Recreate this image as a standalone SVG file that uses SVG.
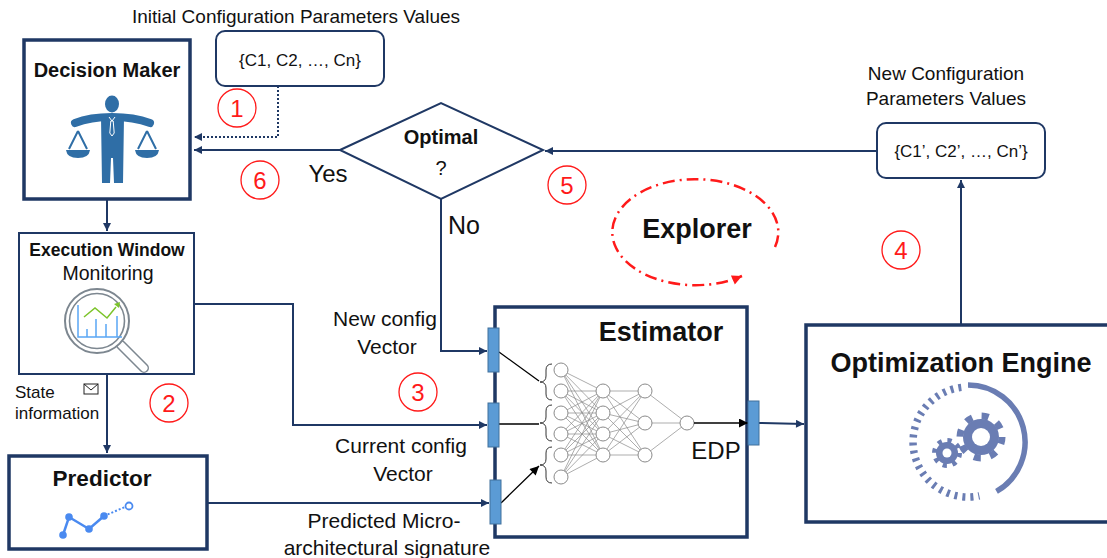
<svg xmlns="http://www.w3.org/2000/svg" width="1107" height="558" viewBox="0 0 1107 558">
  <style>
    text { font-family: "Liberation Sans", Arial, sans-serif; fill: #111; }
    .b { font-weight: bold; }
    .box { fill: #fff; stroke: #1f3864; }
    .thick { stroke-width: 3.5; }
    .conn { fill: none; stroke: #1f3864; stroke-width: 2; }
    .num { fill: none; stroke: #ff1a1a; stroke-width: 1.3; }
    .numt { fill: #ff1a1a; font-size: 24px; text-anchor: middle; }
    .port { fill: #5b9bd5; stroke: #41719c; stroke-width: 1; }
    .nn { fill: none; stroke: #8a8a8a; stroke-width: 0.7; }
    .node { fill: #fff; stroke: #8a8a8a; stroke-width: 1; }
    .dm { fill: #2f6ea6; }
    .gear { fill: #6a7db3; }
  </style>
  <defs>
    <marker id="arr" viewBox="0 0 10 10" refX="10" refY="5" markerWidth="9" markerHeight="8" markerUnits="userSpaceOnUse" orient="auto">
      <path d="M0 0 L10 5 L0 10 Z" fill="#1f3864"/>
    </marker>
    <marker id="arrk" viewBox="0 0 10 10" refX="10" refY="5" markerWidth="10" markerHeight="9" markerUnits="userSpaceOnUse" orient="auto">
      <path d="M0 0 L10 5 L0 10 Z" fill="#000"/>
    </marker>
    <marker id="arrr" viewBox="0 0 10 10" refX="10" refY="5" markerWidth="11" markerHeight="10" markerUnits="userSpaceOnUse" orient="auto">
      <path d="M0 0 L10 5 L0 10 Z" fill="#ff1a1a"/>
    </marker>
  </defs>

  <!-- connectors -->
  <g id="connectors">
    <path class="conn" d="M278 86 V137 H194" stroke-dasharray="2 2" marker-end="url(#arr)"/>
    <path class="conn" d="M340 150 H194" marker-end="url(#arr)"/>
    <path class="conn" d="M877 151 H545" marker-end="url(#arr)"/>
    <path class="conn" d="M961 325 V180" marker-end="url(#arr)"/>
    <path class="conn" d="M107 199 V231" marker-end="url(#arr)"/>
    <path class="conn" d="M107 374 V453" stroke-width="2.6" marker-end="url(#arr)"/>
    <path class="conn" d="M194 304 H293 V425 H487" marker-end="url(#arr)"/>
    <path class="conn" d="M441 199 V351 H487" marker-end="url(#arr)"/>
    <path class="conn" d="M207 503 H489" marker-end="url(#arr)"/>
    <path class="conn" d="M759 423 L804 424" marker-end="url(#arr)"/>
  </g>

  <!-- labels -->
  <text x="296" y="23" font-size="19" text-anchor="middle">Initial Configuration Parameters Values</text>
  <text x="946" y="80" font-size="19" text-anchor="middle">New Configuration</text>
  <text x="946" y="105" font-size="19" text-anchor="middle">Parameters Values</text>
  <text x="328" y="181.5" font-size="24" text-anchor="middle">Yes</text>
  <text x="464" y="234" font-size="25" text-anchor="middle">No</text>
  <text x="385" y="325.5" font-size="21" text-anchor="middle">New config</text>
  <text x="387" y="353.5" font-size="21" text-anchor="middle">Vector</text>
  <text x="401" y="452.5" font-size="21" text-anchor="middle">Current config</text>
  <text x="403" y="480.5" font-size="21" text-anchor="middle">Vector</text>
  <text x="384" y="527.5" font-size="21" text-anchor="middle">Predicted Micro-</text>
  <text x="387" y="554.5" font-size="21" text-anchor="middle">architectural signature</text>
  <text x="15" y="398" font-size="17">State</text>
  <text x="15" y="419" font-size="17">information</text>
  <g id="envelope" fill="none" stroke="#222" stroke-width="1">
    <rect x="84" y="384" width="14" height="10"/>
    <path d="M84 384 L91 390 L98 384"/>
  </g>

  <!-- step markers -->
  <g id="steps">
    <circle class="num" cx="237" cy="108" r="19"/><text class="numt" x="237" y="117">1</text>
    <circle class="num" cx="169" cy="403" r="19"/><text class="numt" x="169" y="412">2</text>
    <circle class="num" cx="418" cy="392" r="19"/><text class="numt" x="418" y="401">3</text>
    <circle class="num" cx="901" cy="250" r="19"/><text class="numt" x="901" y="259">4</text>
    <circle class="num" cx="567" cy="185" r="19"/><text class="numt" x="567" y="194">5</text>
    <circle class="num" cx="260" cy="180" r="19"/><text class="numt" x="260" y="189">6</text>
  </g>

  <!-- Decision Maker -->
  <g id="decision-maker">
    <rect class="box thick" x="24" y="40" width="166" height="159"/>
    <text class="b" x="107" y="77" font-size="20" text-anchor="middle">Decision Maker</text>
    <ellipse class="dm" cx="112" cy="104" rx="7" ry="8.5"/>
    <path d="M75 123 Q90 117 112 117 Q134 117 150 123" fill="none" stroke="#2f6ea6" stroke-width="8" stroke-linecap="round"/>
    <path class="dm" d="M101 117 L124 117 L123 183 L114 183 L113 158 L111 158 L110 183 L102 183 Z"/>
    <path d="M109 117 L112 121 L115 117" fill="none" stroke="#fff" stroke-width="1"/>
    <path d="M110.8 121 L113.2 121 L114.2 133 L112 136 L109.8 133 Z" fill="#2f6ea6" stroke="#fff" stroke-width="1"/>
    <path d="M78 131 L69 149 M78 131 L87 149 M147 131 L138 149 M147 131 L156 149" fill="none" stroke="#2f6ea6" stroke-width="2"/>
    <path class="dm" d="M66 150 L90 150 Q89 158 78 158 Q67 158 66 150 Z"/>
    <path class="dm" d="M135 150 L159 150 Q158 158 147 158 Q136 158 135 150 Z"/>
  </g>

  <!-- Initial configuration -->
  <g id="initial-config">
    <rect class="box" x="216" y="31" width="168" height="55" rx="9" stroke-width="2"/>
    <text x="300" y="66" font-size="17" text-anchor="middle">{C1, C2, …, Cn}</text>
  </g>

  <!-- Optimal decision -->
  <g id="optimal">
    <path class="box" d="M340 150 L441 103 L543 150 L441 199 Z" stroke-width="2"/>
    <text class="b" x="441" y="144" font-size="20" text-anchor="middle">Optimal</text>
    <text x="441" y="175" font-size="20" text-anchor="middle">?</text>
  </g>

  <!-- New configuration -->
  <g id="new-config">
    <rect class="box" x="877" y="123" width="168" height="55" rx="9" stroke-width="2"/>
    <text x="961" y="157" font-size="17" text-anchor="middle">{C1’, C2’, …, Cn’}</text>
  </g>

  <!-- Explorer -->
  <g id="explorer">
    <path d="M775 247 A83 53 0 1 0 742 276" fill="none" stroke="#ff1a1a" stroke-width="2.5" stroke-dasharray="12 5 2 5" marker-end="url(#arrr)"/>
    <text class="b" x="697" y="238" font-size="27" text-anchor="middle">Explorer</text>
  </g>

  <!-- Execution Window Monitoring -->
  <g id="execution-window">
    <rect class="box" x="19" y="233" width="175" height="141" stroke-width="2"/>
    <text class="b" x="107" y="255.5" font-size="17.5" text-anchor="middle">Execution Window</text>
    <text x="108" y="280" font-size="19.5" text-anchor="middle">Monitoring</text>
    <path d="M121 345 L144 368" stroke="#7d8790" stroke-width="10" stroke-linecap="round"/>
    <path d="M121 345 L144 368" stroke="#fff" stroke-width="7" stroke-linecap="round"/>
    <circle cx="97" cy="321" r="32" fill="#fff" stroke="#7d8790" stroke-width="2"/>
    <circle cx="97" cy="321" r="27.5" fill="#fff" stroke="#7d8790" stroke-width="1.6"/>
    <path d="M78 305 V337 H122 M87 337 V329 M96 337 V319 M106 337 V324 M117 337 V316" fill="none" stroke="#5aa7f5" stroke-width="1.5"/>
    <path d="M84 317 L95 308 L107 318 L116 307" fill="none" stroke="#7cc42a" stroke-width="1.5"/>
    <path d="M114 304 L120 302 L119 308 Z" fill="#7cc42a"/>
  </g>

  <!-- Predictor -->
  <g id="predictor">
    <rect class="box thick" x="9" y="456" width="198" height="93"/>
    <text class="b" x="102" y="486" font-size="22.5" text-anchor="middle">Predictor</text>
    <path d="M63 535 L69 517 L89 529 L104 516" fill="none" stroke="#4a8af0" stroke-width="2.5"/>
    <path d="M104 516 L125 507" fill="none" stroke="#4a8af0" stroke-width="2" stroke-dasharray="2 2"/>
    <g fill="#4a8af0">
      <circle cx="63" cy="535" r="3.8"/><circle cx="69" cy="517" r="3.8"/>
      <circle cx="89" cy="529" r="3.8"/><circle cx="104" cy="516" r="3.8"/>
    </g>
    <circle cx="129" cy="506" r="3.5" fill="#fff" stroke="#4a8af0" stroke-width="1.8"/>
  </g>

  <!-- Estimator -->
  <g id="estimator">
    <rect class="box thick" x="495" y="307" width="252" height="230"/>
    <text class="b" x="661" y="341" font-size="27" text-anchor="middle">Estimator</text>
    <path class="nn" d="M561 370 L603 391 M561 370 L603 413 M561 370 L603 434 M561 370 L603 455
      M561 391 L603 391 M561 391 L603 413 M561 391 L603 434 M561 391 L603 455
      M561 413 L603 391 M561 413 L603 413 M561 413 L603 434 M561 413 L603 455
      M561 434 L603 391 M561 434 L603 413 M561 434 L603 434 M561 434 L603 455
      M561 455 L603 391 M561 455 L603 413 M561 455 L603 434 M561 455 L603 455
      M561 477 L603 391 M561 477 L603 413 M561 477 L603 434 M561 477 L603 455
      M603 391 L645 391 M603 391 L645 423 M603 391 L645 455
      M603 413 L645 391 M603 413 L645 423 M603 413 L645 455
      M603 434 L645 391 M603 434 L645 423 M603 434 L645 455
      M603 455 L645 391 M603 455 L645 423 M603 455 L645 455
      M645 391 L687 423 M645 423 L687 423 M645 455 L687 423"/>
    <g class="node">
      <circle cx="561" cy="370" r="7"/><circle cx="561" cy="391" r="7"/><circle cx="561" cy="413" r="7"/>
      <circle cx="561" cy="434" r="7"/><circle cx="561" cy="455" r="7"/><circle cx="561" cy="477" r="7"/>
      <circle cx="603" cy="391" r="7"/><circle cx="603" cy="413" r="7"/><circle cx="603" cy="434" r="7"/><circle cx="603" cy="455" r="7"/>
      <circle cx="645" cy="391" r="7"/><circle cx="645" cy="423" r="7"/><circle cx="645" cy="455" r="7"/>
      <circle cx="687" cy="423" r="7"/>
    </g>
    <path d="M552 364 Q546 364 546 370 L546 376 Q546 382 540 382 Q546 382 546 388 L546 394 Q546 400 552 400
             M552 405 Q546 405 546 411 L546 417 Q546 423 540 423 Q546 423 546 429 L546 435 Q546 441 552 441
             M552 447 Q546 447 546 453 L546 459 Q546 465 540 465 Q546 465 546 471 L546 477 Q546 483 552 483"
          fill="none" stroke="#333" stroke-width="1"/>
    <path d="M499 352 L539 381 M499 424 L539 424 M501 503 L539 466" fill="none" stroke="#000" stroke-width="1.3" marker-end="url(#arrk)"/>
    <path d="M694 423 L748 423" fill="none" stroke="#000" stroke-width="1.5" marker-end="url(#arrk)"/>
    <text x="716" y="458.5" font-size="24" text-anchor="middle">EDP</text>
    <rect class="port" x="488" y="328" width="11" height="44"/>
    <rect class="port" x="488" y="403" width="11" height="44"/>
    <rect class="port" x="490" y="480" width="11" height="44"/>
    <rect class="port" x="748" y="401" width="11" height="44"/>
  </g>

  <!-- Optimization Engine -->
  <g id="optimization-engine">
    <rect class="box thick" x="806" y="325" width="310" height="197"/>
    <text class="b" x="961" y="372" font-size="27" text-anchor="middle">Optimization Engine</text>
    <path d="M968 385 A57 57 0 0 1 996.5 491.4" fill="none" stroke="#6a7db3" stroke-width="5.5"/>
    <path d="M961.3 387.4 A55 55 0 1 0 979.4 495.8" fill="none" stroke="#6a7db3" stroke-width="7.5" stroke-dasharray="3 5"/>
    <circle cx="981" cy="437" r="21" fill="none" stroke="#6a7db3" stroke-width="7" stroke-dasharray="7 9.49"/>
    <circle class="gear" cx="981" cy="437" r="18"/>
    <circle cx="981" cy="437" r="9" fill="#fff"/>
    <circle cx="947" cy="453" r="12.5" fill="none" stroke="#6a7db3" stroke-width="5" stroke-dasharray="4.2 5.62"/>
    <circle class="gear" cx="947" cy="453" r="11"/>
    <circle cx="947" cy="453" r="4.5" fill="#fff"/>
  </g>
</svg>
